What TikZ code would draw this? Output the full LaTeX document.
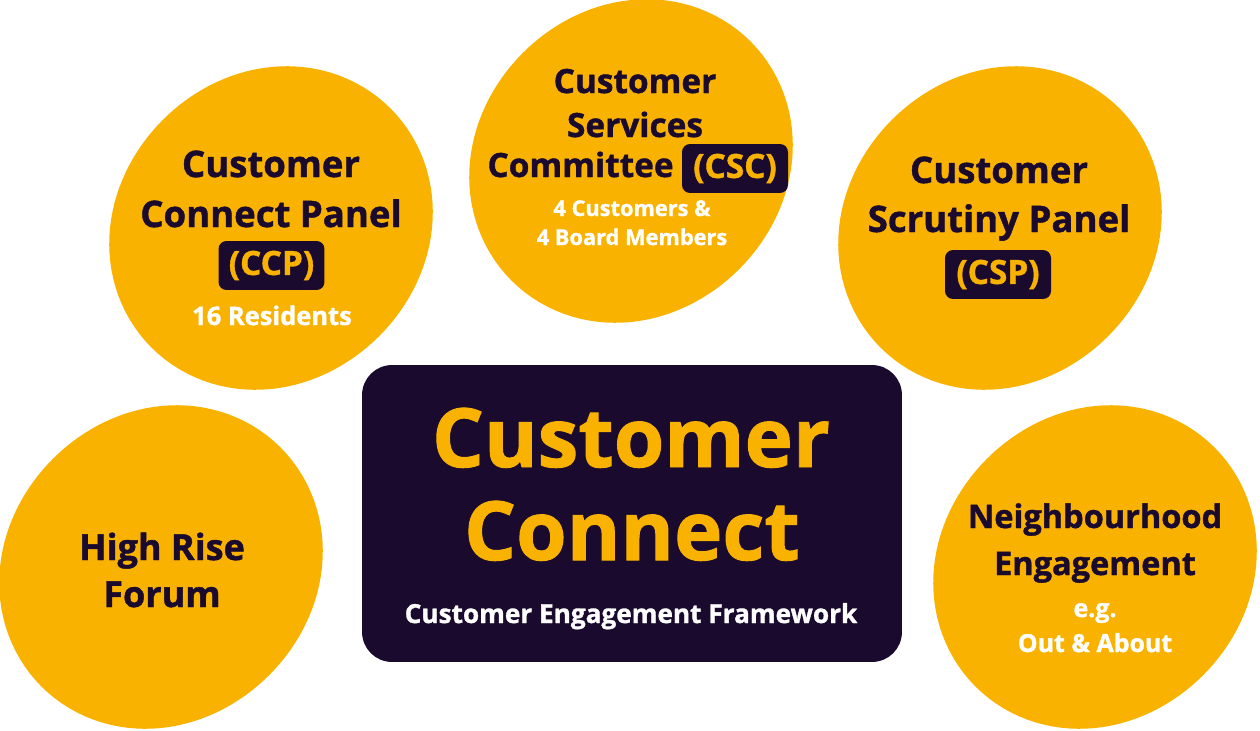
\documentclass[tikz,border=0pt]{standalone}
\usepackage{fontspec}
\setmainfont{Open Sans}[BoldFeatures={FakeBold=1.2}]
\usepackage{tikz}
\usetikzlibrary{positioning}
\definecolor{gold}{HTML}{F9B200}
\definecolor{ink}{HTML}{1A0A2E}
\newcommand\fsz[1]{\fontsize{#1}{#1}\selectfont}
\newcommand\blob[1]{%
  \fill[gold, shift={#1}] plot[domain=0:360, samples=121]
    (\x:{161*(1-0.05*cos(2*\x-90))}) -- cycle;}
\tikzset{
  core/.style={fill=ink, rounded corners=0.6cm, minimum width=10.8cm,
               minimum height=5.94cm, inner sep=0pt},
  bigtxt/.style={text=gold, font=\bfseries\fsz{46.5}, anchor=base, inner sep=0pt},
  subtxt/.style={text=white, font=\bfseries\fsz{14.9}, anchor=base, inner sep=0pt},
  head/.style={text=ink, font=\bfseries\fsz{20.8}, anchor=base, inner sep=0pt},
  note/.style={text=white, font=\bfseries\fsz{14.5}, anchor=base, inner sep=0pt},
  tag/.style={fill=ink, text=gold, rounded corners=0.16cm, minimum width=2.12cm,
              minimum height=0.98cm, inner sep=0pt, font=\bfseries\fsz{19}},
}

\begin{document}
\begin{tikzpicture}[x=0.02cm, y=-0.02cm]
  \useasboundingbox (0,0) rectangle (1260,730);

  % Yellow blobs
  \blob{(271,228)}
  \blob{(631,161)}
  \blob{(1000,228)}
  \blob{(161,567)}
  \blob{(1095,567)}

  % Central box
  \node[core] (cc) at (632,513.5) {};
  \node[bigtxt] (ccA) at (631,467) {Customer};
  \node[bigtxt] (ccB) at (632,560) {Connect};
  \node[subtxt] (ccC) at (631,623) {Customer Engagement Framework};

  % Customer Connect Panel
  \node[head] (ccpA) at (271,177) {Customer};
  \node[head] (ccpB) at (271,227) {Connect Panel};
  \node[tag]  (ccpT) at (271.5,265.5) {(CCP)};
  \node[note] (ccpN) at (272,325) {16 Residents};

  % Customer Services Committee
  \node[head, font=\bfseries\fsz{19}] (cscA) at (635,93) {Customer};
  \node[head, font=\bfseries\fsz{19}] (cscB) at (635,137) {Services};
  \node[head, font=\bfseries\fsz{19}, anchor=base east] (cscC) at (674,177) {Committee};
  \node[tag]  (cscT) at (735,168.5) {(CSC)};
  \node[note, font=\bfseries\fsz{12.4}] (cscN) at (632,216) {4 Customers \&};
  \node[note, font=\bfseries\fsz{12.4}] (cscM) at (632,245) {4 Board Members};

  % Customer Scrutiny Panel
  \node[head] (cspA) at (999,183) {Customer};
  \node[head] (cspB) at (999,232) {Scrutiny Panel};
  \node[tag]  (cspT) at (998,274.5) {(CSP)};

  % High Rise Forum
  \node[head, font=\bfseries\fsz{20.5}] (hrfA) at (162,560) {High Rise};
  \node[head, font=\bfseries\fsz{20.5}] (hrfB) at (162,607) {Forum};

  % Neighbourhood Engagement
  \node[head, font=\bfseries\fsz{18.5}] (neA) at (1095,528) {Neighbourhood};
  \node[head, font=\bfseries\fsz{18.5}] (neB) at (1095,575) {Engagement};
  \node[note, font=\bfseries\fsz{14.2}] (neN) at (1095,617) {e.g.};
  \node[note, font=\bfseries\fsz{14.2}] (neM) at (1095,652) {Out \& About};
\end{tikzpicture}
\end{document}
